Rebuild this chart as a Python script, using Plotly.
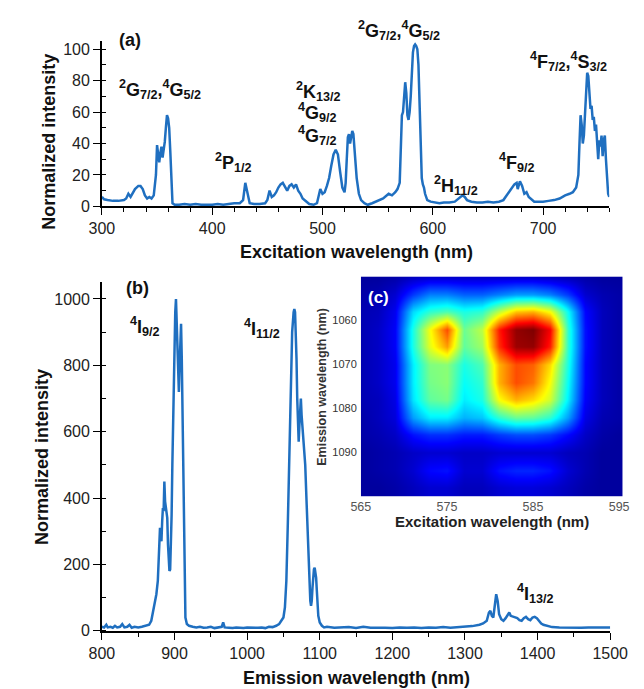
import plotly.graph_objects as go

# ---------------- data: panel (a) excitation spectrum ----------------
exc_wl = [300, 302, 305, 310, 315, 320, 322, 324, 326, 328, 330, 333, 335, 337, 339, 341, 343, 345, 347,
          349, 350, 351, 352, 353, 354, 355, 356, 357, 358, 359, 360, 361, 362, 363, 364, 366, 370, 375,
          380, 385, 390, 395, 400, 405, 410, 415, 420, 425, 428, 430, 432, 434, 438, 443, 448, 450, 452,
          454, 456, 458, 460, 462, 464, 466, 468, 470, 472, 474, 476, 478, 480, 482, 485, 488, 492, 495,
          497, 498, 500, 502, 504, 506, 508, 510, 512, 514, 516, 518, 520, 521, 522, 523, 524, 525, 526,
          527, 528, 529, 531, 533, 535, 538, 541, 545, 550, 555, 560, 563, 566, 568, 570, 571, 572, 573,
          574, 575, 576, 577, 578, 579, 580, 581, 582, 583, 584, 585, 586, 587, 588, 589, 590, 591, 592,
          593, 595, 598, 602, 606, 610, 615, 620, 623, 625, 627, 629, 631, 635, 640, 645, 650, 655, 660,
          664, 667, 670, 672, 674, 676, 677, 679, 681, 683, 685, 687, 689, 692, 696, 700, 705, 710, 715,
          720, 724, 727, 730, 732, 733, 734, 735, 736, 737, 738, 739, 740, 741, 742, 743, 744, 745, 746,
          747, 748, 749, 750, 751, 752, 753, 754, 755, 756, 757, 758, 759, 760]
exc_int = [6, 4.5, 4, 3.5, 3.5, 4, 5, 8, 6, 9, 11, 13, 13, 11, 7, 5, 6, 5, 7,
           20, 39, 33, 28, 34, 38, 31, 35, 41, 50, 58, 56, 50, 35, 12, 2, 1, 1, 1.5,
           1, 1.5, 1, 1, 1, 1.5, 1, 1.5, 2, 2, 4, 15, 9, 2, 1.5, 1.5, 2, 4, 10,
           6, 7, 9, 12, 14, 15, 12, 10, 13, 14, 12, 14, 10, 8, 5, 3, 1.5, 1, 2,
           8, 11, 8, 9, 13, 18, 26, 33, 36, 33, 22, 12, 9, 15, 30, 44, 46, 40, 44,
           48, 46, 35, 18, 8, 4, 2, 1, 2, 3.5, 5, 8, 7, 9, 11, 15, 40, 58, 60,
           70, 79, 72, 58, 55, 60, 70, 85, 98, 102, 103, 102, 100, 90, 60, 35, 18, 14, 12,
           8, 4, 3, 2.5, 2, 2.5, 2.5, 3, 5, 6, 7, 6, 4, 3, 2.5, 2.5, 3, 2.5, 3,
           4, 7, 10, 12, 14, 15, 11, 16, 13, 8, 9, 6, 5, 3, 3, 3, 3.5, 4, 5,
           7, 8, 9, 12, 20, 40, 58, 52, 40, 45, 60, 75, 85, 83, 70, 62, 64, 55, 57,
           48, 52, 40, 30, 42, 38, 45, 32, 42, 45, 30, 18, 8, 6]

# ---------------- data: panel (b) emission spectrum ----------------
emi_wl = [800, 803, 806, 808, 812, 815, 818, 821, 825, 828, 831, 835, 838, 841, 845, 850, 855, 860, 865,
          868, 871, 873, 875, 877, 879, 880, 881, 882, 883, 884, 885, 886, 887, 888, 889, 890, 891, 892,
          893, 894, 895, 896, 897, 898, 899, 900, 901, 902, 903, 904, 905, 906, 907, 908, 909, 910, 911,
          912, 913, 914, 915, 917, 920, 925, 930, 935, 940, 945, 950, 955, 960, 965, 967, 969, 975, 980,
          985, 990, 995, 1000, 1005, 1010, 1015, 1020, 1025, 1030, 1035, 1040, 1044, 1047, 1050, 1052,
          1054, 1056, 1058, 1060, 1062, 1064, 1065, 1066, 1067, 1068, 1069, 1070, 1071, 1072, 1073, 1074,
          1075, 1076, 1078, 1080, 1082, 1084, 1086, 1087, 1088, 1089, 1090, 1091, 1092, 1093, 1094, 1095,
          1096, 1097, 1098, 1100, 1103, 1106, 1110, 1120, 1130, 1140, 1150, 1160, 1170, 1180, 1190, 1200,
          1210, 1220, 1230, 1240, 1250, 1260, 1270, 1280, 1290, 1300, 1310, 1320, 1325, 1330, 1333, 1335,
          1337, 1339, 1341, 1343, 1345, 1347, 1350, 1353, 1356, 1359, 1361, 1363, 1366, 1369, 1372, 1375,
          1378, 1381, 1384, 1387, 1390, 1393, 1396, 1399, 1402, 1405, 1408, 1412, 1416, 1420, 1430, 1440,
          1450, 1460, 1470, 1480, 1490, 1500]
emi_int = [12, 10, 18, 10, 12, 9, 15, 10, 12, 20, 10, 12, 18, 9, 12, 10, 12, 14, 18,
           30, 60, 90, 110, 150, 230, 310, 280, 270, 330, 370, 360, 450, 390, 370, 365, 340, 260, 200,
           180, 185, 240, 350, 500, 650, 800, 900, 960, 1000, 930, 850, 790, 720, 800, 900, 925, 820, 650,
           450, 250, 100, 40, 20, 15, 12, 10, 12, 9, 10, 12, 8, 10, 12, 25, 10, 9, 8,
           10, 9, 8, 10, 9, 8, 9, 10, 8, 12, 11, 15, 20, 30, 40, 70,
           150, 320, 550, 780, 900, 960, 970, 960, 900, 820, 700, 590, 570, 620, 690, 700,
           650, 620, 560, 500, 380, 260, 130, 90, 75, 90, 130, 165, 185, 190, 175, 160,
           120, 80, 45, 25, 15, 10, 12, 9, 10, 11, 8, 12, 9, 10, 9, 8,
           10, 9, 10, 8, 10, 9, 11, 9, 10, 12, 14, 18, 22, 30, 55, 60,
           45, 40, 80, 110, 90, 50, 35, 30, 38, 50, 55, 45, 42, 40, 38, 32,
           30, 38, 42, 35, 32, 40, 42, 38, 28, 22, 18, 15, 12, 11, 10, 9,
           10, 9, 10, 9, 10, 10]

# ---------------- data: panel (c) excitation-emission map ----------------
map_exc = [565, 567, 569, 571, 573, 575, 577, 579, 581, 583, 585, 587, 589, 591, 593, 595]
map_emi = [1050, 1054, 1058, 1062, 1066, 1070, 1074, 1078, 1082, 1086, 1090, 1094, 1098]
map_z = [
    [0.03, 0.03, 0.04, 0.06, 0.07, 0.07, 0.07, 0.07, 0.07, 0.07, 0.07, 0.06, 0.05, 0.04, 0.03, 0.03],
    [0.04, 0.05, 0.08, 0.18, 0.25, 0.25, 0.22, 0.22, 0.25, 0.28, 0.28, 0.25, 0.18, 0.08, 0.05, 0.04],
    [0.05, 0.06, 0.11, 0.34, 0.42, 0.45, 0.40, 0.42, 0.56, 0.68, 0.70, 0.62, 0.38, 0.13, 0.06, 0.04],
    [0.05, 0.07, 0.12, 0.40, 0.62, 0.80, 0.48, 0.56, 0.85, 0.98, 1.00, 0.88, 0.42, 0.14, 0.06, 0.04],
    [0.05, 0.07, 0.12, 0.40, 0.60, 0.72, 0.47, 0.53, 0.83, 0.97, 0.98, 0.85, 0.42, 0.14, 0.06, 0.04],
    [0.05, 0.07, 0.11, 0.36, 0.50, 0.51, 0.40, 0.45, 0.70, 0.80, 0.78, 0.66, 0.40, 0.13, 0.06, 0.04],
    [0.05, 0.07, 0.11, 0.36, 0.49, 0.51, 0.38, 0.42, 0.70, 0.80, 0.76, 0.62, 0.38, 0.13, 0.06, 0.04],
    [0.05, 0.06, 0.10, 0.35, 0.47, 0.49, 0.36, 0.40, 0.62, 0.70, 0.66, 0.58, 0.36, 0.12, 0.06, 0.04],
    [0.04, 0.06, 0.09, 0.28, 0.36, 0.36, 0.30, 0.32, 0.42, 0.48, 0.47, 0.42, 0.28, 0.10, 0.05, 0.04],
    [0.04, 0.05, 0.07, 0.14, 0.17, 0.17, 0.15, 0.15, 0.18, 0.20, 0.20, 0.18, 0.13, 0.07, 0.04, 0.03],
    [0.03, 0.04, 0.05, 0.07, 0.08, 0.08, 0.07, 0.07, 0.08, 0.08, 0.08, 0.08, 0.06, 0.05, 0.03, 0.03],
    [0.03, 0.04, 0.05, 0.08, 0.13, 0.14, 0.08, 0.08, 0.14, 0.16, 0.16, 0.14, 0.08, 0.05, 0.03, 0.03],
    [0.03, 0.03, 0.04, 0.06, 0.08, 0.08, 0.06, 0.06, 0.08, 0.09, 0.09, 0.08, 0.06, 0.04, 0.03, 0.03],
]

# tick labels
exc_ticks = [300, 400, 500, 600, 700]
emi_ticks = [800, 900, 1000, 1100, 1200, 1300, 1400, 1500]
map_exc_ticks = [565, 575, 585, 595]
map_emi_ticks = [1060, 1070, 1080, 1090]

W, H = 644, 689
FONT = "Liberation Sans, Arial, sans-serif"
LINE = "#1f6fc0"


def px(x, y):
    return x / W, 1 - y / H


fig = go.Figure()
fig.add_trace(go.Scatter(x=exc_wl, y=exc_int, mode="lines", line=dict(color=LINE, width=2.5),
                         xaxis="x", yaxis="y", showlegend=False))
fig.add_trace(go.Scatter(x=emi_wl, y=emi_int, mode="lines", line=dict(color=LINE, width=2.5),
                         xaxis="x2", yaxis="y2", showlegend=False))
jet = [[0, "#00007f"], [0.125, "#0000ff"], [0.375, "#00ffff"], [0.625, "#ffff00"],
       [0.875, "#ff0000"], [1, "#7f0000"]]
fig.add_trace(go.Heatmap(x=map_exc, y=map_emi, z=map_z, colorscale=jet, zmin=0, zmax=1,
                         zsmooth="best", showscale=False, xaxis="x3", yaxis="y3", hoverinfo="skip"))

axis_common = dict(showline=True, linecolor="black", linewidth=1.6, showgrid=False, zeroline=False,
                   ticks="outside", ticklen=7, tickwidth=1.4, tickcolor="black",
                   tickfont=dict(family=FONT, size=16, color="#222"))

fig.update_layout(
    width=W, height=H, margin=dict(l=0, r=0, t=0, b=0),
    paper_bgcolor="white", plot_bgcolor="white",
    xaxis=dict(domain=[85 / W, 618 / W], range=[300, 760], anchor="y", tickvals=exc_ticks,
               minor=dict(dtick=20, tick0=300, ticks="outside", ticklen=4, tickcolor="black"),
               **axis_common),
    yaxis=dict(domain=[1 - 201 / H, 1 - 33 / H], range=[0, 105.5], anchor="x", dtick=20,
               minor=dict(dtick=10, ticks="inside", ticklen=4, tickcolor="black"), **axis_common),
    xaxis2=dict(domain=[85 / W, 619 / W], range=[800, 1500], anchor="y2", tickvals=emi_ticks,
                minor=dict(dtick=50, tick0=800, ticks="outside", ticklen=4, tickcolor="black"),
                **axis_common),
    yaxis2=dict(domain=[1 - 631 / H, 1 - 278 / H], range=[0, 1050], anchor="x2", dtick=200,
                minor=dict(dtick=100, ticks="inside", ticklen=4, tickcolor="black"), **axis_common),
    xaxis3=dict(domain=[357 / W, 632 / W], range=[565, 595.4], anchor="y3", tickvals=map_exc_ticks,
                showline=False, showgrid=False, zeroline=False, ticks="", ticklabelstandoff=1,
                tickfont=dict(family=FONT, size=12.5, color="#555")),
    yaxis3=dict(domain=[1 - 495 / H, 1 - 272 / H], range=[1100, 1050], anchor="x3",
                tickvals=map_emi_ticks, showline=False, showgrid=False, zeroline=False, ticks="",
                ticklabelstandoff=3, tickfont=dict(family=FONT, size=11, color="#333")),
)

ann = []


def add(text, x, y, size=18, color="#111", bold=True, angle=0):
    xx, yy = px(x, y)
    ann.append(dict(text=f"<b>{text}</b>" if bold else text, x=xx, y=yy, xref="paper", yref="paper",
                    xanchor="center", yanchor="middle", showarrow=False, textangle=angle,
                    font=dict(family=FONT, size=size, color=color)))


# panel (a)
add("(a)", 115, 32)
add("<sup>2</sup>G<sub>7/2</sub>,<sup>4</sup>G<sub>5/2</sub>", 146, 83)
add("<sup>2</sup>G<sub>7/2</sub>,<sup>4</sup>G<sub>5/2</sub>", 397, 23)
add("<sup>2</sup>P<sub>1/2</sub>", 223, 157)
add("<sup>2</sup>K<sub>13/2</sub>", 313, 85)
add("<sup>4</sup>G<sub>9/2</sub>", 311, 106)
add("<sup>4</sup>G<sub>7/2</sub>", 311, 129)
add("<sup>2</sup>H<sub>11/2</sub>", 457, 180)
add("<sup>4</sup>F<sub>9/2</sub>", 521, 157)
add("<sup>4</sup>F<sub>7/2</sub>,<sup>4</sup>S<sub>3/2</sub>", 575, 54)
add("Normalized intensity", 30, 136, angle=-90)
add("Excitation wavelength (nm)", 352, 247)
# panel (b)
add("(b)", 122, 284)
add("<sup>4</sup>I<sub>9/2</sub>", 130, 323)
add("<sup>4</sup>I<sub>11/2</sub>", 253, 325)
add("<sup>4</sup>I<sub>13/2</sub>", 540, 593)
add("Normalized intensity", 22, 455, angle=-90)
add("Emission wavelength (nm)", 352, 679)
# panel (c)
add("(c)", 376, 293, size=17, color="white")
add("Emission wavelength (nm)", 316, 384, size=12.5, color="#333", angle=-90)
add("Excitation wavelength (nm)", 495, 520, size=15, color="#222")

fig.update_layout(annotations=ann)
fig.write_html("out.html")
